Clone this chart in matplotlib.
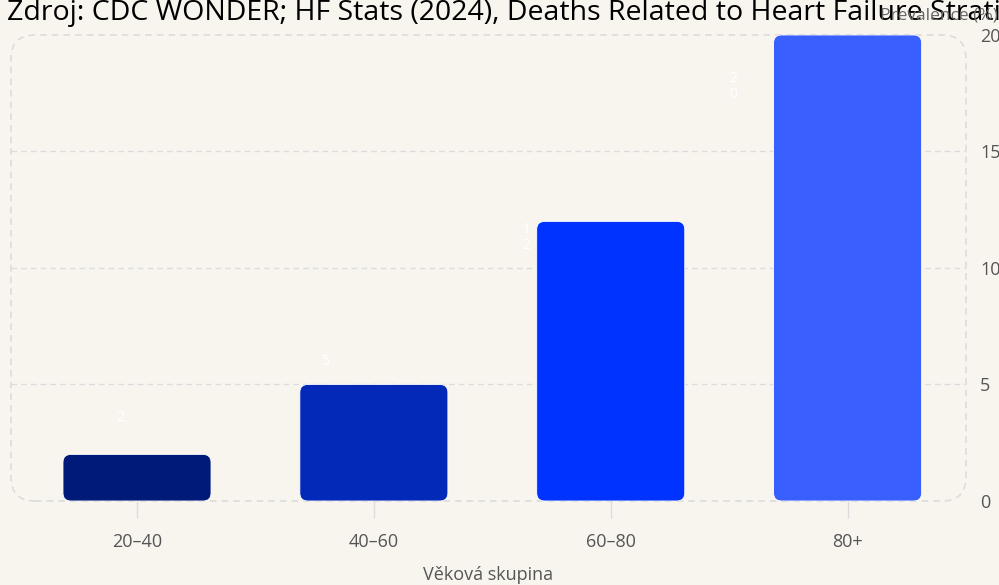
import matplotlib
matplotlib.use("Agg")
import matplotlib.pyplot as plt
from matplotlib.patches import FancyBboxPatch
import numpy as np

plt.rcParams['font.family'] = ['Open Sans', 'DejaVu Sans']

# data
age_groups = ["20–40", "40–60", "60–80", "80+"]
prevalence = [2, 5, 12, 20]
bar_colors = ["#001a7a", "#0229b8", "#0033ff", "#3a5fff"]
value_labels = ["2", "5", "1\n2", "2\n0"]

TITLE = "Zdroj: CDC WONDER; HF Stats (2024), Deaths Related to Heart Failure Stratified by Age"
BG = "#f8f5ef"
GRID = "#dcdcdc"
TXT = "#555555"

fig = plt.figure(figsize=(9.99, 5.85), dpi=100, facecolor=BG)
ax = fig.add_axes([0.011, 0.1436, 0.956, 0.7966], facecolor=BG)

x = np.arange(len(age_groups))
bars = ax.bar(x, prevalence, width=0.625, color=bar_colors)

# swap the square bars for rounded ones
for b, c in zip(bars, bar_colors):
    rb = FancyBboxPatch((b.get_x(), b.get_y()), b.get_width(), b.get_height(),
                        boxstyle="round,pad=0,rounding_size=0.034",
                        mutation_aspect=10, facecolor=c,
                        edgecolor="#ffffff", linewidth=0.6, zorder=3)
    b.remove()
    ax.add_patch(rb)

# value labels sit oddly to the upper-left of each bar in the original
label_dx = [-0.07, -0.206, -0.355, -0.483]
label_dy = [1.6, 0.97, -0.7, -2.2]
for i, (v, lab) in enumerate(zip(prevalence, value_labels)):
    ax.text(i + label_dx[i], v + label_dy[i], lab, color="white", fontsize=10,
            ha="center", va="center", linespacing=1.05, zorder=4)

ax.set_xlim(-0.532, 3.5)
ax.set_ylim(0, 20)
ax.set_xticks(x)
ax.set_xticklabels(age_groups, fontsize=13, color=TXT)
ax.set_yticks([0, 5, 10, 15, 20])
ax.yaxis.tick_right()
ax.tick_params(axis="y", length=0, pad=10, labelsize=13, labelcolor=TXT)
ax.tick_params(axis="x", length=12, width=1, color=GRID, pad=11)
for s in ax.spines.values():
    s.set_visible(False)

for yv in [5, 10, 15]:
    ax.axhline(yv, color=GRID, lw=1, ls=(0, (4, 3)), zorder=1)

# dashed rounded frame around the plotting area
frame = FancyBboxPatch((0, 0), 1, 1, transform=ax.transAxes,
                       boxstyle="round,pad=0,rounding_size=0.025",
                       mutation_aspect=956 / 466,
                       facecolor="none", edgecolor=GRID, lw=1.2,
                       ls=(0, (4, 3)), clip_on=False, zorder=1)
ax.add_patch(frame)

ax.set_xlabel("Věková skupina", fontsize=13, color=TXT, labelpad=11)

fig.text(7 / 999, 1 - 20 / 585, TITLE, fontsize=20.5, color="black",
         ha="left", va="baseline")
fig.text(880 / 999, 1 - 16 / 585, "Prevalence (%)", fontsize=12.5, color="#666666",
         ha="left", va="center")

fig.savefig("out.png", dpi=100, facecolor=BG)
